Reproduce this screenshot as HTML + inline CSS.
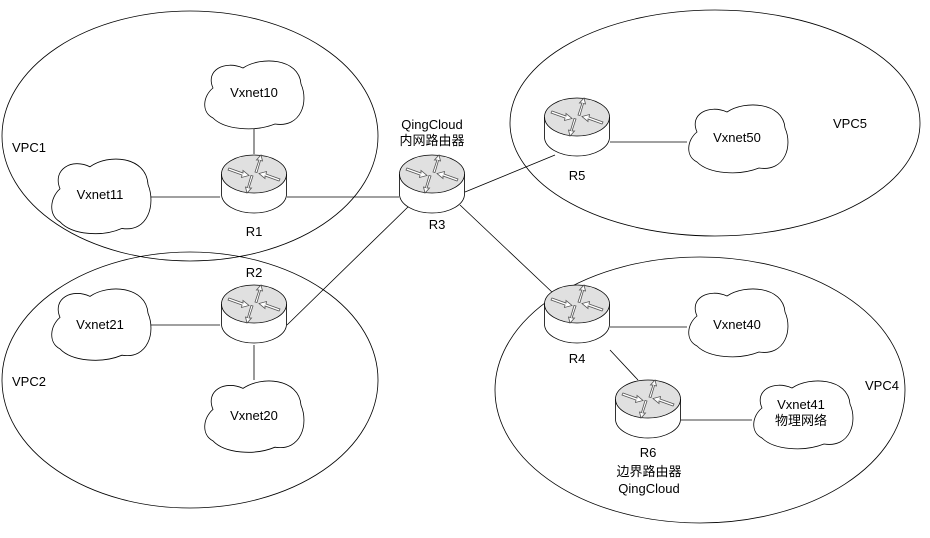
<!DOCTYPE html>
<html><head><meta charset="utf-8"><style>
body{margin:0;background:#fff}
text{font-family:"Liberation Sans","Noto Sans CJK SC",sans-serif;font-size:13px;fill:#000}
.c{fill:#fff;stroke:#000;stroke-width:0.8}
</style></head><body>
<svg width="930" height="533" viewBox="0 0 930 533" xmlns="http://www.w3.org/2000/svg">
<defs>
<g id="rt">
<path d="M0.5 19 L0.5 39 A32.5 19 0 0 0 65.5 39 L65.5 19" fill="#fff" stroke="#000" stroke-width="0.8"/>
<ellipse cx="33" cy="19" rx="32.5" ry="19" fill="#e0e0e0" stroke="#000" stroke-width="0.8"/>
<g fill="#fff" stroke="#555" stroke-width="0.8">
<path d="M8 13 L22 18 L22 15.5 L28 20.5 L20.5 22.5 L21 20 L7 15 Z"/>
<path d="M58 26 L44 21 L44 23.5 L38 18.5 L45.5 16.5 L45 19 L59 24 Z"/>
<path d="M34 17 L38 5 L35.5 5 L40 0 L41.5 6 L39.5 5.5 L36 17.5 Z"/>
<path d="M32 21 L28 33 L30.5 33 L26 38 L24.5 32 L26.5 32.5 L30 20.5 Z"/>
</g>
</g>
</defs>
<g fill="none" stroke="#000" stroke-width="0.8">
<ellipse cx="190" cy="136" rx="188" ry="125"/>
<ellipse cx="190" cy="380" rx="188" ry="128"/>
<ellipse cx="715" cy="123" rx="205" ry="113"/>
<ellipse cx="700" cy="390" rx="205" ry="133"/>
</g>
<g stroke="#000" stroke-width="0.8">
<line x1="150" y1="197" x2="220" y2="197"/>
<line x1="287" y1="197" x2="399" y2="197"/>
<line x1="254" y1="128" x2="254" y2="154"/>
<line x1="287" y1="325" x2="410" y2="205"/>
<line x1="465" y1="192" x2="555" y2="155"/>
<line x1="610" y1="142" x2="687" y2="142"/>
<line x1="460" y1="205" x2="553" y2="293"/>
<line x1="610" y1="327" x2="687" y2="327"/>
<line x1="610" y1="350" x2="638" y2="380"/>
<line x1="681" y1="420" x2="752" y2="420"/>
<line x1="150" y1="325" x2="220" y2="325"/>
<line x1="254" y1="345" x2="254" y2="380"/>
</g>
<path class="c" transform="translate(203,60)" d="M10 28 C2 10 22 0 40 8 C58 -4 96 -2 98 24 C106 42 98 68 72 64 C52 72 22 70 10 58 C-2 52 0 36 10 28 Z"/>
<path class="c" transform="translate(50,158) scale(1,1.1)" d="M10 28 C2 10 22 0 40 8 C58 -4 96 -2 98 24 C106 42 98 68 72 64 C52 72 22 70 10 58 C-2 52 0 36 10 28 Z"/>
<path class="c" transform="translate(50,288) scale(1,1.05)" d="M10 28 C2 10 22 0 40 8 C58 -4 96 -2 98 24 C106 42 98 68 72 64 C52 72 22 70 10 58 C-2 52 0 36 10 28 Z"/>
<path class="c" transform="translate(203,380) scale(1,1.05)" d="M10 28 C2 10 22 0 40 8 C58 -4 96 -2 98 24 C106 42 98 68 72 64 C52 72 22 70 10 58 C-2 52 0 36 10 28 Z"/>
<path class="c" transform="translate(687,104)" d="M10 28 C2 10 22 0 40 8 C58 -4 96 -2 98 24 C106 42 98 68 72 64 C52 72 22 70 10 58 C-2 52 0 36 10 28 Z"/>
<path class="c" transform="translate(687,288)" d="M10 28 C2 10 22 0 40 8 C58 -4 96 -2 98 24 C106 42 98 68 72 64 C52 72 22 70 10 58 C-2 52 0 36 10 28 Z"/>
<path class="c" transform="translate(752,380)" d="M10 28 C2 10 22 0 40 8 C58 -4 96 -2 98 24 C106 42 98 68 72 64 C52 72 22 70 10 58 C-2 52 0 36 10 28 Z"/>
<use href="#rt" x="221" y="155"/>
<use href="#rt" x="221" y="285"/>
<use href="#rt" x="399" y="155"/>
<use href="#rt" x="544" y="98"/>
<use href="#rt" x="544" y="285"/>
<use href="#rt" x="615" y="380"/>
<g text-anchor="middle">
<text x="254" y="97">Vxnet10</text>
<text x="100" y="199">Vxnet11</text>
<text x="100" y="329">Vxnet21</text>
<text x="254" y="420">Vxnet20</text>
<text x="737" y="142">Vxnet50</text>
<text x="737" y="329">Vxnet40</text>
<text x="801" y="409">Vxnet41</text>
<text x="801" y="425">物理网络</text>
<text x="254" y="236">R1</text>
<text x="254" y="277">R2</text>
<text x="437" y="229">R3</text>
<text x="577" y="180">R5</text>
<text x="577" y="363">R4</text>
<text x="648" y="457">R6</text>
<text x="649" y="476">边界路由器</text>
<text x="649" y="493">QingCloud</text>
<text x="432" y="129">QingCloud</text>
<text x="432" y="145">内网路由器</text>
</g>
<text x="12" y="152">VPC1</text>
<text x="12" y="386">VPC2</text>
<text x="833" y="128">VPC5</text>
<text x="865" y="390">VPC4</text>
</svg>
</body></html>
